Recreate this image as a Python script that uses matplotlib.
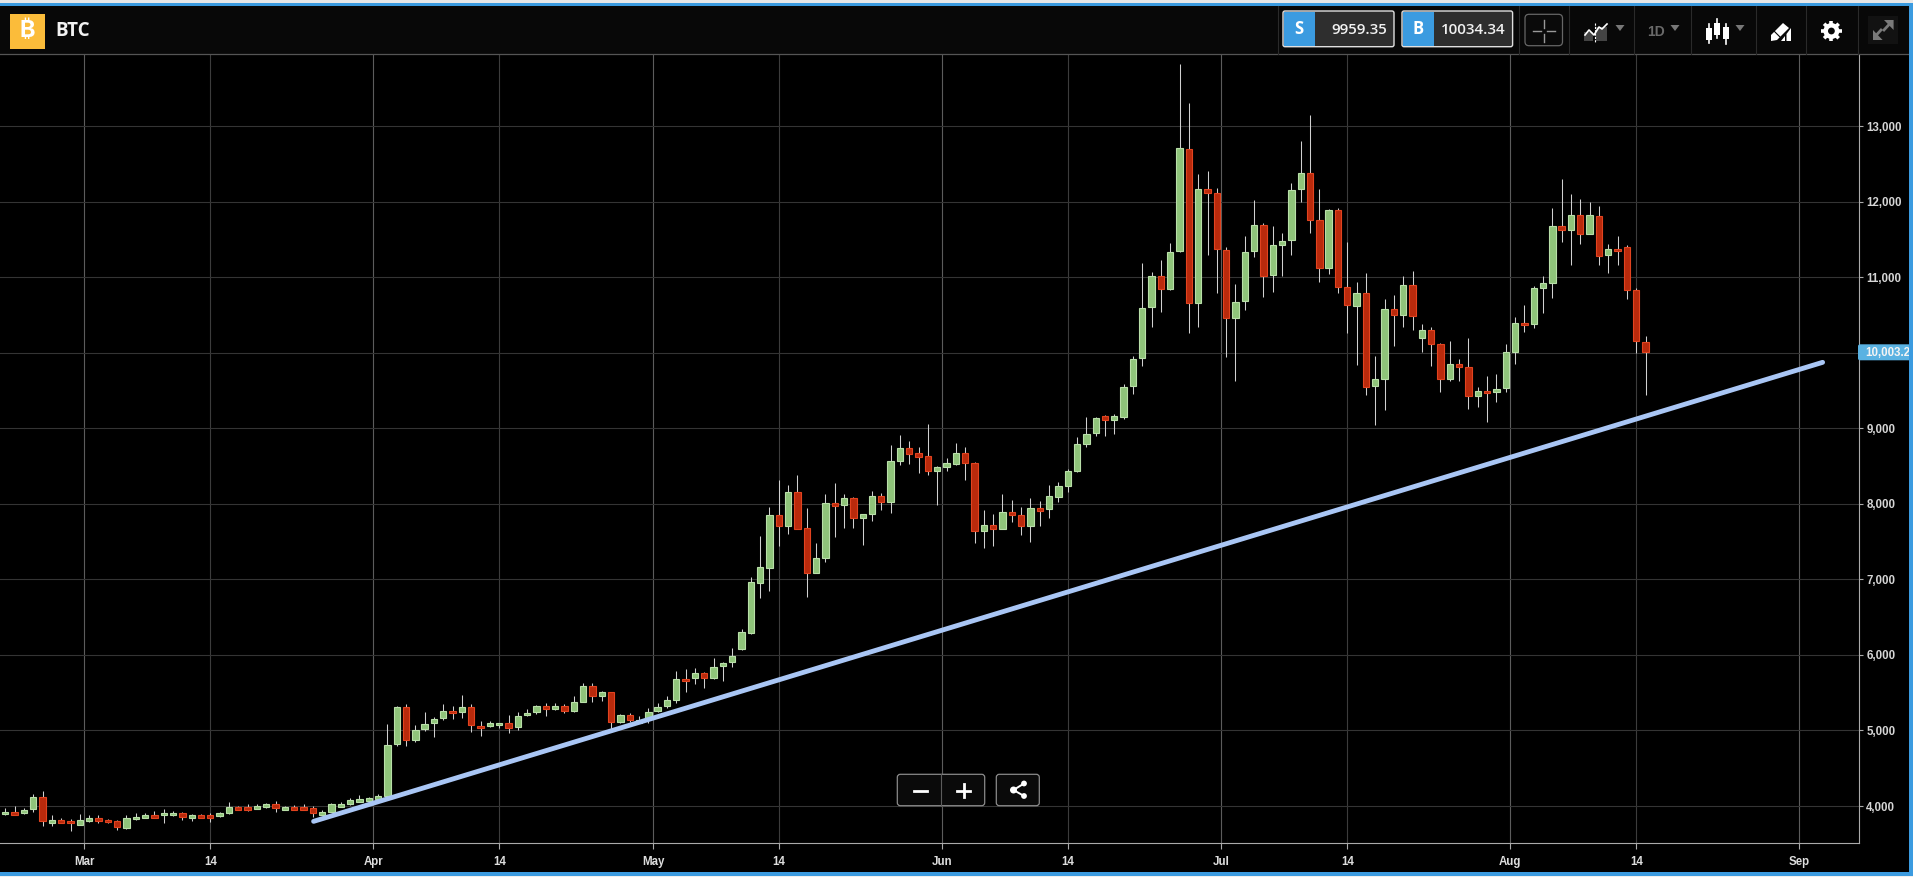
import numpy as np
import pandas as pd
import matplotlib
matplotlib.use("Agg")
import matplotlib.pyplot as plt
import matplotlib.dates as mdates
from matplotlib.patches import Rectangle, FancyBboxPatch, Polygon, Circle

plt.rcParams['font.family'] = ['Liberation Sans', 'DejaVu Sans']

# daily candles
first_day = '2019-02-20'
opens = [3890, 3925, 3910, 3955, 4125, 3780, 3820, 3805, 3755, 3805, 3845, 3820, 3805, 3715, 3825, 3845, 3885, 3875, 3875, 3910,
         3845, 3885, 3875, 3865, 3910, 3990, 3990, 3965, 3990, 4030, 3950, 3990, 3990, 3980, 3885, 3925, 3990, 4020, 4055, 4070,
         4095, 4135, 4815, 5310, 4870, 5015, 5095, 5160, 5260, 5240, 5310, 5060, 5055, 5070, 5100, 5040, 5200, 5240, 5325, 5280,
         5325, 5255, 5375, 5590, 5455, 5510, 5110, 5205, 5100, 5150, 5255, 5320, 5400, 5680, 5690, 5760, 5690, 5855, 5905, 6075,
         6290, 6955, 7155, 7850, 7700, 8150, 7675, 7090, 7285, 8005, 7990, 8075, 7815, 7870, 8100, 8030, 8570, 8735, 8670, 8630,
         8440, 8490, 8530, 8670, 8535, 7645, 7715, 7670, 7885, 7850, 7700, 7940, 7925, 8095, 8240, 8440, 8790, 8935, 9165, 9115,
         9155, 9560, 9930, 10605, 11020, 10840, 11345, 12695, 10655, 12165, 12115, 11360, 10460, 10685, 11345, 11690, 11025, 11425, 11490, 12165,
         12380, 11755, 11120, 11890, 10870, 10615, 10790, 9565, 9650, 10575, 10505, 10895, 10200, 10300, 10115, 9650, 9850, 9810, 9425, 9490,
         9485, 9530, 10005, 10390, 10380, 10855, 10920, 11675, 11625, 11820, 11570, 11810, 11290, 11370, 11395, 10830, 10140]
closes = [3925, 3885, 3950, 4125, 3800, 3820, 3780, 3770, 3820, 3845, 3805, 3785, 3720, 3845, 3860, 3885, 3845, 3910, 3910, 3860,
          3885, 3845, 3835, 3910, 3990, 3950, 3950, 4005, 4025, 3980, 3990, 3950, 3950, 3905, 3925, 4030, 4030, 4085, 4095, 4110,
          4135, 4810, 5310, 4870, 5005, 5085, 5150, 5260, 5230, 5310, 5070, 5030, 5100, 5100, 5030, 5190, 5230, 5325, 5285, 5325,
          5255, 5375, 5590, 5455, 5510, 5110, 5205, 5135, 5140, 5245, 5310, 5405, 5680, 5650, 5760, 5690, 5840, 5895, 5985, 6300,
          6960, 7160, 7850, 7700, 8150, 7670, 7090, 7280, 8005, 7975, 8075, 7815, 7860, 8100, 8030, 8565, 8735, 8665, 8625, 8440,
          8485, 8535, 8670, 8545, 7645, 7715, 7670, 7885, 7855, 7700, 7940, 7910, 8100, 8230, 8430, 8790, 8920, 9135, 9115, 9160,
          9545, 9920, 10595, 11020, 10840, 11335, 12710, 10655, 12165, 12110, 11370, 10460, 10675, 11335, 11690, 11015, 11425, 11480, 12155, 12380,
          11755, 11120, 11890, 10870, 10630, 10795, 9550, 9650, 10575, 10505, 10895, 10480, 10300, 10110, 9650, 9850, 9815, 9425, 9490, 9465,
          9515, 10005, 10390, 10360, 10855, 10920, 11675, 11625, 11820, 11570, 11820, 11280, 11370, 11345, 10830, 10150, 10005]
highs = [3975, 4000, 3980, 4165, 4200, 3875, 3840, 3830, 3900, 3875, 3875, 3830, 3820, 3885, 3910, 3910, 3940, 3960, 3935, 3925,
         3890, 3895, 3910, 3920, 4050, 4005, 4025, 4025, 4035, 4070, 4005, 4015, 4020, 3995, 3945, 4040, 4055, 4110, 4140, 4120,
         4160, 5085, 5330, 5350, 5075, 5245, 5180, 5350, 5330, 5475, 5350, 5125, 5125, 5105, 5205, 5240, 5285, 5335, 5365, 5365,
         5350, 5450, 5630, 5630, 5525, 5515, 5220, 5225, 5195, 5300, 5365, 5455, 5790, 5815, 5830, 5775, 5965, 5905, 6095, 6340,
         7025, 7570, 7955, 8315, 8245, 8375, 7940, 7475, 8125, 8280, 8125, 8095, 7865, 8170, 8140, 8780, 8915, 8830, 8745, 9055,
         8495, 8605, 8805, 8745, 8550, 7920, 7865, 8125, 8050, 7955, 8075, 8035, 8255, 8285, 8455, 8880, 9145, 9150, 9180, 9190,
         9585, 9950, 11190, 11070, 11230, 11455, 13815, 13305, 12365, 12410, 12180, 11400, 10915, 11545, 12025, 11720, 11680, 11590, 12245, 12800,
         13145, 12165, 11905, 11915, 11460, 10935, 11055, 9960, 10710, 10765, 11015, 11080, 10380, 10340, 10125, 10150, 9920, 10190, 9540, 9685,
         9720, 10115, 10470, 10630, 10880, 11015, 11920, 12300, 12100, 12040, 12000, 11945, 11435, 11545, 11425, 10855, 10220]
lows = [3875, 3875, 3890, 3915, 3730, 3740, 3770, 3670, 3750, 3785, 3770, 3775, 3680, 3695, 3815, 3840, 3840, 3770, 3870, 3820,
        3805, 3840, 3785, 3855, 3895, 3945, 3940, 3955, 3980, 3925, 3945, 3945, 3945, 3860, 3875, 3915, 3985, 4010, 4050, 4055,
        4090, 4130, 4790, 4790, 4850, 4990, 4915, 5140, 5155, 5165, 4980, 4925, 5045, 5030, 4960, 5010, 5190, 5215, 5195, 5265,
        5225, 5240, 5370, 5380, 5385, 5025, 5105, 5110, 5095, 5105, 5240, 5295, 5360, 5510, 5620, 5560, 5675, 5660, 5840, 6060,
        6280, 6755, 6845, 7435, 7605, 7660, 6760, 7085, 7230, 7565, 7680, 7685, 7455, 7775, 7920, 7875, 8510, 8530, 8405, 8380,
        7985, 8440, 8510, 8315, 7485, 7415, 7440, 7660, 7760, 7585, 7490, 7700, 7810, 8030, 8150, 8425, 8750, 8900, 8900, 8930,
        9120, 9450, 9825, 10345, 10535, 10835, 11330, 10265, 10340, 11295, 10785, 9940, 9625, 10565, 11270, 10740, 10800, 11020, 11295, 11995,
        11590, 10935, 11035, 10795, 10255, 9835, 9435, 9040, 9245, 10090, 10340, 10295, 10015, 9830, 9485, 9620, 9620, 9260, 9285, 9080,
        9350, 9485, 9850, 10280, 10320, 10530, 10720, 11470, 11160, 11435, 11565, 11165, 11055, 11160, 10715, 9995, 9445]

month_ticks = ['2019-03-01', '2019-04-01', '2019-05-01', '2019-06-01', '2019-07-01', '2019-08-01', '2019-09-01']
month_labels = ['Mar', 'Apr', 'May', 'Jun', 'Jul', 'Aug', 'Sep']
mid_ticks = ['2019-03-14', '2019-04-14', '2019-05-14', '2019-06-14', '2019-07-14', '2019-08-14']
price_ticks = [4000, 5000, 6000, 7000, 8000, 9000, 10000, 11000, 12000, 13000]

# trend line drawn by hand on the chart
trend_dates = ['2019-03-25 14:00', '2019-09-03 12:00']
trend_prices = [3797, 9872]

sell_price = '9959.35'
buy_price = '10034.34'
last_price = '10,003.2'

W, H = 1913, 877
GREEN, GREEN_EDGE = '#8fc47a', '#b9dfa9'
RED, RED_EDGE = '#b92a0c', '#e2431f'
BLUE = '#3b9be0'

fig = plt.figure(figsize=(W / 100, H / 100), dpi=100, facecolor='black')

# main chart, placed by pixels
left, right, top, bottom = 0, 1859.3, 54, 842.5
ax = fig.add_axes([left / W, 1 - bottom / H, (right - left) / W, (bottom - top) / H], facecolor='black')

n = len(opens)
days = mdates.date2num(pd.date_range(first_day, periods=n)) + 0.5
o, c, h, l = np.array(opens), np.array(closes), np.array(highs), np.array(lows)
up = c >= o

ax.vlines(days, l, h, color='#d0d0d0', lw=0.75, zorder=3)
ax.bar(days[up], (c - o)[up], bottom=o[up], width=0.68, color=GREEN, edgecolor=GREEN_EDGE, lw=0.8, zorder=4)
ax.bar(days[~up], (o - c)[~up], bottom=c[~up], width=0.68, color=RED, edgecolor=RED_EDGE, lw=0.8, zorder=4)

ax.plot(mdates.date2num(pd.to_datetime(trend_dates)), trend_prices, color='#a9c6f5', lw=3.5,
        solid_capstyle='round', zorder=5)

month_x = mdates.date2num(pd.to_datetime(month_ticks))
mid_x = mdates.date2num(pd.to_datetime(mid_ticks)) + 0.5
mar1 = month_x[0]
px_day = (month_x[-1] - mar1) / (1799.3 - 84.5)
ax.set_xlim(mar1 - 84.5 * px_day, mar1 + (right - 84.5) * px_day)
ax.set_ylim(3517, 13953)

for x in month_x:
    ax.axvline(x, color='#5c5c5c', lw=0.8, zorder=1)
for x in mid_x:
    ax.axvline(x, color='#3c3c3c', lw=0.8, zorder=1)
for p in price_ticks:
    ax.axhline(p, color='#343434', lw=0.8, zorder=1)

ax.set_xticks(np.concatenate([month_x, mid_x]))
ax.set_xticklabels(month_labels + ['14'] * len(mid_x))
ax.set_yticks(price_ticks)
# the 10,000 label sits behind the last price tag
ax.set_yticklabels(['' if p == 10000 else f'{p:,}' for p in price_ticks])
ax.yaxis.tick_right()
ax.tick_params(axis='x', colors='#aaaaaa', length=4, width=0.8, pad=6, labelsize=8.3, labelcolor='#dddddd')
ax.tick_params(axis='y', colors='#aaaaaa', length=3, width=0.8, pad=2, labelsize=8.3, labelcolor='#d5d5d5')
for t in ax.get_xticklabels() + ax.get_yticklabels():
    t.set_fontweight('bold')
for s in ['top', 'left']:
    ax.spines[s].set_visible(False)
for s in ['bottom', 'right']:
    ax.spines[s].set_color('#aaaaaa')
    ax.spines[s].set_linewidth(0.8)

# overlay for the toolbar and buttons, in pixels
ui = fig.add_axes([0, 0, 1, 1], facecolor='none')
ui.set_xlim(0, W)
ui.set_ylim(H, 0)
ui.axis('off')


def rect(x0, y0, x1, y1, color, z=6):
    ui.add_patch(Rectangle((x0, y0), x1 - x0, y1 - y0, fc=color, ec='none', zorder=z))


def rbox(x0, y0, x1, y1, fc, ec, z=6, lw=0.9, r=3):
    ui.add_patch(FancyBboxPatch((x0 + r, y0 + r), x1 - x0 - 2 * r, y1 - y0 - 2 * r,
                                boxstyle=f'round,pad={r},rounding_size={r}', fc=fc, ec=ec, lw=lw, zorder=z))


def caret(x, y, color='#777777'):
    ui.add_patch(Polygon([(x - 4.5, y - 3), (x + 4.5, y - 3), (x, y + 3)], fc=color, ec='none', zorder=8))


# header strip
rect(0, 6, W, 53.5, '#080808', 5)
ui.plot([0, W], [54, 54], color='#555555', lw=0.9, zorder=6)
for x in [1278.3, 1518.5, 1569, 1634, 1690.6, 1755.7, 1806.4, 1857.6]:
    ui.plot([x, x], [6, 54], color='#2a2a2a', lw=0.8, zorder=6)

# coin and name
rect(10, 14, 45, 48.7, '#fbbc3a', 7)
ui.text(27.5, 31, '\u20bf', family=['Inter', 'Noto Sans', 'Roboto', 'Lato', 'Open Sans', 'DejaVu Sans'], weight='bold',
        color='white', fontsize=17, ha='center', va='center', zorder=8)
ui.text(55, 31, 'BTC', family='Open Sans', weight='bold', color='#f2f2f2', fontsize=13.5, ha='left', va='center', zorder=8)

# sell and buy boxes
for x0, x1, xb, letter, value in [(1283, 1394, 1315, 'S', sell_price), (1402, 1512.6, 1434, 'B', buy_price)]:
    rbox(x0, 11, x1, 46.7, '#2e2e2e', '#e0e0e0', 7, 1.0, 2)
    rect(x0 + 1, 12, xb, 46, BLUE, 8)
    ui.text((x0 + xb) / 2, 29.5, letter, family='Open Sans', weight='bold', color='white', fontsize=12, ha='center', va='center', zorder=9)
    ui.text(x1 - 7.3, 29.5, value, family='Open Sans', weight='semibold', color='#f0f0f0', fontsize=10.9, ha='right', va='center', zorder=9)

# crosshair button
rbox(1525, 14.3, 1562.5, 45.7, '#0a0a0a', '#666666', 7, 0.9, 4)
for xs, ys in [((1533, 1541), (31, 31)), ((1547, 1555), (31, 31)), ((1544, 1544), (20, 28)), ((1544, 1544), (34, 42))]:
    ui.plot(xs, ys, color='#999999', lw=1, zorder=8)

# indicators icon
rect(1584, 32, 1593, 41, '#444444', 7)
rect(1596, 27, 1607, 41, '#444444', 7)
ui.plot([1585, 1589, 1594, 1599, 1602, 1607], [35, 30, 35, 27, 29, 24], color='white', lw=1.2, zorder=8)
ui.plot([1594.5, 1594.5], [23, 42], color='white', lw=0.8, ls=(0, (2, 1)), zorder=8)
caret(1620, 28)

ui.text(1656, 31.5, '1D', weight='bold', color='#6a6a6a', fontsize=10, ha='center', va='center', zorder=8)
caret(1675, 28)

# candles icon
for x, y0, y1, b0, b1 in [(1709, 24, 43, 28, 40), (1716.5, 19, 38, 23, 35), (1725.7, 24, 44, 27, 39)]:
    ui.plot([x, x], [y0, y1], color='white', lw=1.2, zorder=8)
    rect(x - 3, b0, x + 3, b1, 'white', 8)
caret(1740, 28)

# drawing tools icon: pencil and little bars
ui.add_patch(Polygon([(1771, 35), (1783, 23), (1789, 28), (1777, 40), (1771, 41)], fc='white', ec='none', zorder=8))
ui.plot([1774, 1780], [31, 37], color='#080808', lw=0.8, zorder=9)
ui.add_patch(Polygon([(1781, 41), (1785, 36), (1785, 41)], fc='white', ec='none', zorder=8))
ui.add_patch(Polygon([(1786.5, 41), (1786.5, 34), (1791, 28), (1791, 41)], fc='white', ec='none', zorder=8))

# gear icon
for a in np.arange(0, 180, 45):
    dx, dy = 10.3 * np.cos(np.radians(a)), 10.3 * np.sin(np.radians(a))
    ui.plot([1831.4 - dx, 1831.4 + dx], [31 - dy, 31 + dy], color='white', lw=2.6, solid_capstyle='butt', zorder=8)
ui.add_patch(Circle((1831.4, 31), 8, fc='white', ec='none', zorder=9))
ui.add_patch(Circle((1831.4, 31), 3.4, fc='#080808', ec='none', zorder=10))

# expand icon
rect(1868, 16, 1898, 44, '#121212', 7)
ui.plot([1884, 1890], [30, 23.5], color='#7a7a7a', lw=2, zorder=8)
ui.plot([1881, 1875], [30, 36.5], color='#7a7a7a', lw=2, zorder=8)
ui.add_patch(Polygon([(1893.6, 20), (1884, 20), (1893.6, 30)], fc='#7a7a7a', ec='none', zorder=8))
ui.add_patch(Polygon([(1873, 40), (1882.6, 40), (1873, 30)], fc='#7a7a7a', ec='none', zorder=8))

# zoom and share buttons
rbox(897.3, 774.3, 984.7, 805.7, '#0a0a0a', '#8a8a8a', 6, 0.9, 3)
rbox(996.3, 774.3, 1039.3, 805.7, '#0a0a0a', '#8a8a8a', 6, 0.9, 3)
ui.plot([941.3, 941.3], [774.3, 805.7], color='#5c5c5c', lw=0.8, zorder=7)
ui.plot([914, 926.5], [790.5, 790.5], color='white', lw=2, zorder=8)
ui.plot([957, 970], [790.5, 790.5], color='white', lw=2, zorder=8)
ui.plot([963.5, 963.5], [784, 797], color='white', lw=2, zorder=8)
ui.plot([1024, 1013.5, 1024], [783.5, 790, 796], color='white', lw=1.4, zorder=8)
for cx, cy, r in [(1013.5, 790, 3.5), (1024, 783.5, 2.9), (1024, 796, 2.9)]:
    ui.add_patch(Circle((cx, cy), r, fc='white', ec='none', zorder=8))

# last price tag
rbox(1858, 344.3, 1915, 360.3, '#5ab2e2', 'none', 7, 0, 2)
ui.text(1865, 352.6, last_price, weight='bold', color='#f4f4f4', fontsize=8.3, ha='left', va='center', zorder=8)

# outer frame
rect(0, 0, W, 3, '#e8e8e8', 10)
rect(0, 3, W, 6, BLUE, 11)
rect(1909.3, 3, W, 876, BLUE, 11)
rect(0, 872, W, 876, BLUE, 11)
rect(0, 876, W, H, '#f0f0f0', 11)

fig.savefig('out.png', dpi=100, facecolor='black')
